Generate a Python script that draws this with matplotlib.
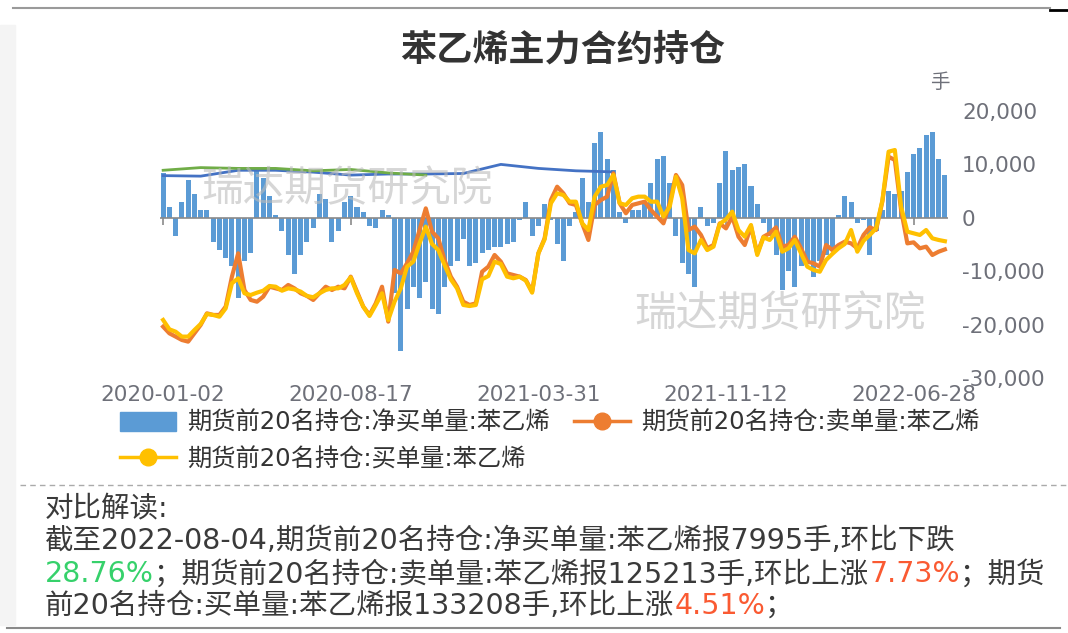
import numpy as np
import matplotlib
matplotlib.use('Agg')
import matplotlib.pyplot as plt
from matplotlib.lines import Line2D
from matplotlib.patches import Patch, Rectangle
from matplotlib.ticker import FuncFormatter

plt.rcParams['font.family'] = ['DejaVu Sans', 'Noto Sans CJK SC']
plt.rcParams['axes.unicode_minus'] = False

title = '苯乙烯主力合约持仓'
tick_labels = ['2020-01-02', '2020-08-17', '2021-03-31', '2021-11-12', '2022-06-28']
tick_idx = [0, 30, 60, 90, 120]   # one sample ~ 5 trading days

name_net = '期货前20名持仓:净买单量:苯乙烯'
name_sell = '期货前20名持仓:卖单量:苯乙烯'
name_buy = '期货前20名持仓:买单量:苯乙烯'

# net buy (bars, right axis), 手
net_buy = [8400, 2000, -3500, 3000, 7000, 4500, 1500, 1500, -4500, -6000,
           -7500, -9000, -15000, -8000, -6500, 9000, 7500, 4000, 500, -2500,
           -7000, -10500, -7000, -4500, -2000, 4500, 3500, -4500, -2500, 3000,
           4000, 2000, 1000, -1500, -2000, 1500, 500, -14000, -25000, -17000,
           -13000, -15000, -12000,
           -17000, -18000, -13000, -9000, -8000, -4000, -9000, -8500, -6500, -6000,
           -5500, -5500, -5000, -4500, -500, 3000, -3500, -1500, 2500, -500,
           -5000, -8000, -1500, 1000, 7500, 3000, 14000, 16000, 11000, 9000,
           1000, -1000, 1500, 1500, 3000, 6500, 11000, 11500, 6500, -3500,
           -8500, -10500, -13000,
           2000, -1500, -1000, 6500, 12500, 9000, 9500, 10000, 6000, 2500,
           -1000, -3500, -7000, -13500, -10000, -13000, -9000, -8000, -11000, -8000,
           -7000, -6000, 500, 4000, 3000, -1000, -500, -7000, -2500, 1500,
           5000, 4500, 5000, 8500, 12000, 13000, 15500, 16000, 11000, 7995]

# buy / sell volume (lines, hidden axis), 手
buy = [56500, 47400, 45100, 40300, 40300, 46700, 52600, 62300, 61400, 59700,
       67800, 92200, 97100, 82500, 80800, 83100, 85000, 89600, 88900, 85000,
       87300, 86300, 84100, 79900, 78600, 82500, 85700, 87300, 87300, 90600,
       98000, 82500, 69500, 60400, 71100, 82500, 56500, 74300, 87300, 108400,
       113300, 131100, 147400,
       130500, 124600, 110000, 96100, 87300, 71100, 70100, 71100, 96100, 99300,
       113300, 111000, 98700, 97100, 98700, 94800, 83100, 121400, 135000, 170100,
       179800, 178200, 171700, 171700, 150600, 144100, 176600, 186300, 187900, 197700,
       170100, 168500, 175000, 176600, 176600, 171700, 171700, 157100, 166800, 196100,
       175000, 124600, 121400,
       134400, 124600, 127900, 150000, 154500, 162000, 144100, 137600, 149000, 119800,
       137000, 134400, 142500, 123000, 126300, 134400, 121400, 108400, 105200, 103500,
       114900, 120800, 126300, 130500, 144100, 123000, 133700, 139300, 145700, 172700,
       220400, 222000, 166800, 142500, 140900, 139300, 144100, 136000, 134400, 133208]

sell = [50000, 43500, 40300, 37000, 35400, 43500, 51600, 63000, 61400, 61400,
        69500, 98700, 121400, 85700, 76000, 74300, 79200, 88900, 87300, 85700,
        90600, 87300, 82500, 79900, 76000, 82500, 88900, 85700, 88900, 87300,
        98700, 84100, 69500, 61400, 72700, 88900, 54900, 105200, 101900, 111700,
        123000, 144100, 165200,
        142500, 136000, 114900, 98700, 88900, 74300, 71100, 72700, 103500, 108400,
        119800, 113300, 101900, 100300, 98700, 95400, 84100, 121400, 136000, 173300,
        186300, 179800, 170100, 168500, 150600, 134400, 168500, 173300, 176600, 199300,
        170100, 160400, 168500, 170100, 171700, 163600, 157100, 150600, 170100, 197700,
        187900, 144100, 147400,
        139300, 126300, 129500, 150600, 145700, 157100, 137600, 129500, 147400, 121400,
        137600, 140900, 146700, 127900, 129500, 137600, 126300, 113300, 111700, 108400,
        129500, 124600, 129500, 132800, 131100, 126300, 139300, 146700, 144100, 171700,
        215500, 212300, 163600, 131100, 132100, 126300, 127900, 119800, 123000, 125213]

# two stray series at the top (every 6 samples)
blue_top = [7900, 7800, 8900, 8900, 8550, 8000, 8200, 8200, 8300, 10000, 9250, 8800, 8600]
green_top = [8900, 9400, 9250, 9250, 8800, 9050, 8400, 8000]

W, H = 1068, 633
fig = plt.figure(figsize=(W / 100, H / 100), dpi=100)

ax = fig.add_axes([160 / W, 1 - 378 / H, 788 / W, 267 / H])
x = np.arange(len(net_buy))
ax.bar(x, net_buy, width=0.8, color='#5b9bd5', zorder=1)
ax.plot(np.arange(len(blue_top)) * 6, blue_top, color='#4472c4', lw=2, zorder=2)
ax.plot(np.arange(len(green_top)) * 6, green_top, color='#70ad47', lw=2, zorder=2)
ax.axhline(0, color='#8a8a8a', lw=1.2, zorder=1.5)
ax.set_xlim(-0.5, len(net_buy) - 0.5)
ax.set_ylim(-30000, 20000)
ax.set_xticks(tick_idx, tick_labels)
ax.tick_params(axis='x', length=0, pad=5, labelsize=15.5, labelcolor='#6e7079')
for s in ax.spines.values():
    s.set_visible(False)

sec = ax.secondary_xaxis(0.6)
sec.set_alignment('bottom')
sec.set_xticks(tick_idx, [''] * len(tick_idx))
sec.tick_params(length=5, color='#8a8a8a', width=1.2)
for s in sec.spines.values():
    s.set_visible(False)

ax2 = ax.twinx()
ax2.set_ylim(0, 260000)
ax2.plot(x, sell, color='#ed7d31', lw=3)
ax2.plot(x, buy, color='#ffc000', lw=3)
ax2.axis('off')

# twinx moves the ticks to the left, so set the right axis after it
ax.yaxis.tick_right()
ax.set_yticks(np.arange(-30000, 20001, 10000))
ax.yaxis.set_major_formatter(FuncFormatter(lambda v, p: f'{v:,.0f}'))
ax.tick_params(axis='y', length=0, pad=10, labelsize=15.5, labelcolor='#6e7079')

cjk = 'Noto Sans CJK SC'
fig.text(563 / W, 1 - 50 / H, title, fontsize=26, weight='bold', color='#333333',
         ha='center', va='center', family=cjk)
fig.text(940 / W, 1 - 82 / H, '手', fontsize=14, color='#6e7079',
         ha='center', va='center', family=cjk)
for cx, cy in [(347, 190), (780, 315)]:
    fig.text(cx / W, 1 - cy / H, '瑞达期货研究院', fontsize=30, color='#bbbbbb', alpha=0.6,
             ha='center', va='center', family=cjk, zorder=10)

h_net = Patch(facecolor='#5b9bd5', edgecolor='#5b9bd5', label=name_net)
h_sell = Line2D([], [], color='#ed7d31', lw=2.5, marker='o', markersize=12, label=name_sell)
h_buy = Line2D([], [], color='#ffc000', lw=2.5, marker='o', markersize=12, label=name_buy)
fig.legend(handles=[h_net, h_buy, h_sell], ncol=2, loc='upper left',
           bbox_to_anchor=(120 / W, 1 - 411 / H), frameon=False, fontsize=17.5,
           handlelength=2.3, handleheight=0.8, handletextpad=0.45, columnspacing=1.0,
           labelspacing=0.5, borderpad=0, borderaxespad=0, labelcolor='#333333')

# frame bits
fig.add_artist(Rectangle((0, 1 - 625 / H), 15 / W, 600 / H, transform=fig.transFigure,
                         color='#f4f4f4', zorder=0))
fig.add_artist(Line2D([13 / W, 1050 / W], [1 - 8 / H] * 2, color='#9a9a9a', lw=1.5))
fig.add_artist(Line2D([1050 / W, 1], [1 - 10 / H] * 2, color='black', lw=2))
fig.add_artist(Line2D([20 / W, 1], [1 - 485 / H] * 2, color='#aaaaaa', lw=1, ls=(0, (4, 3))))
fig.add_artist(Line2D([7 / W, 1060 / W], [1 - 628 / H] * 2, color='#8a8a8a', lw=1.5))

# commentary below
dark = '#3a3a3a'
green = '#36d16b'
red = '#fa5a32'
lines = [
    [('对比解读:', dark)],
    [('截至2022-08-04,期货前20名持仓:净买单量:苯乙烯报7995手,环比下跌', dark)],
    [('28.76%', green), ('；期货前20名持仓:卖单量:苯乙烯报125213手,环比上涨', dark),
     ('7.73%', red), ('；期货', dark)],
    [('前20名持仓:买单量:苯乙烯报133208手,环比上涨', dark), ('4.51%', red), ('；', dark)],
]
renderer = fig.canvas.get_renderer()
for row, y in zip(lines, [508, 541, 574, 606]):
    xx = 45 / W
    for s, c in row:
        t = fig.text(xx, 1 - y / H, s, fontsize=20.5, color=c, va='center')
        xx += t.get_window_extent(renderer).width / W

fig.savefig('out.png', dpi=100)
